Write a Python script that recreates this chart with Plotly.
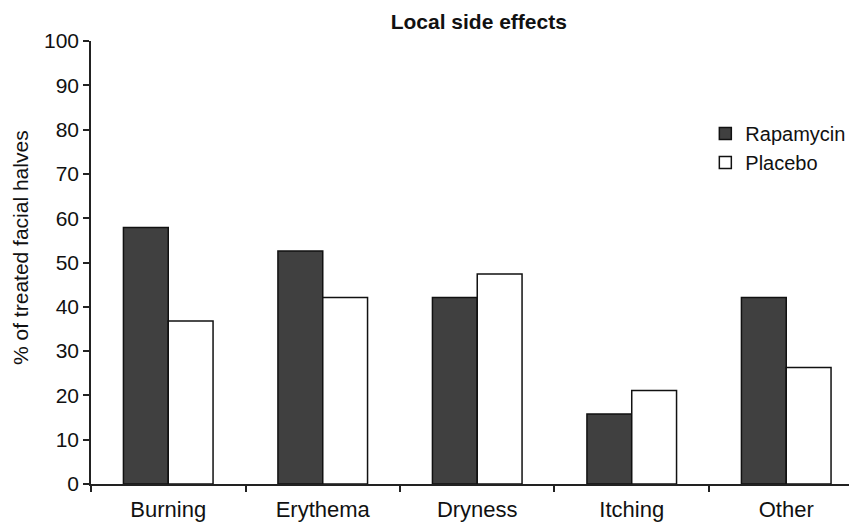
import plotly.graph_objects as go

categories = ["Burning", "Erythema", "Dryness", "Itching", "Other"]
rapamycin = [57.9, 52.6, 42.1, 15.8, 42.1]
placebo = [36.8, 42.1, 47.4, 21.1, 26.3]
y_ticks = [0, 10, 20, 30, 40, 50, 60, 70, 80, 90, 100]

FONT = "Liberation Sans, Arial, sans-serif"

fig = go.Figure()
fig.add_trace(go.Bar(x=categories, y=rapamycin, name="Rapamycin",
                     marker=dict(color="#404040", line=dict(color="#111111", width=1.5))))
fig.add_trace(go.Bar(x=categories, y=placebo, name="Placebo",
                     marker=dict(color="#ffffff", line=dict(color="#111111", width=1.5))))

fig.update_layout(
    width=849, height=514,
    margin=dict(l=83, r=0, t=33, b=36),
    paper_bgcolor="white", plot_bgcolor="white",
    barmode="group", bargap=0.42, bargroupgap=0,
    font=dict(family=FONT, size=20, color="#111111"),
    title=dict(text="<b>Local side effects</b>", x=0.5545, xanchor="center",
               y=0.973, yanchor="middle", font=dict(size=21, family=FONT)),
    showlegend=True,
    legend=dict(x=0.802, y=0.835, xanchor="left", yanchor="top",
                bgcolor="rgba(0,0,0,0)", font=dict(size=20, family=FONT),
                tracegroupgap=6),
    xaxis=dict(range=[-0.5, 4.458], showline=True, linecolor="#222222", linewidth=1.5,
               ticks="outside", tickson="boundaries", ticklen=6, tickcolor="#222222",
               tickwidth=1.5, showgrid=False, tickfont=dict(size=22),
               ticklabelstandoff=5),
    yaxis=dict(range=[0, 100], tickvals=y_ticks, showline=True, linecolor="#222222",
               linewidth=1.5, ticks="outside", ticklen=6, tickcolor="#222222",
               tickwidth=1.5, showgrid=False, zeroline=False, tickfont=dict(size=21)),
    annotations=[dict(text="% of treated facial halves", textangle=-90,
                      xref="paper", yref="paper", x=-0.0914, y=0.535,
                      xanchor="center", yanchor="middle", showarrow=False,
                      font=dict(size=21, family=FONT))],
)

fig.write_html("out.html")
